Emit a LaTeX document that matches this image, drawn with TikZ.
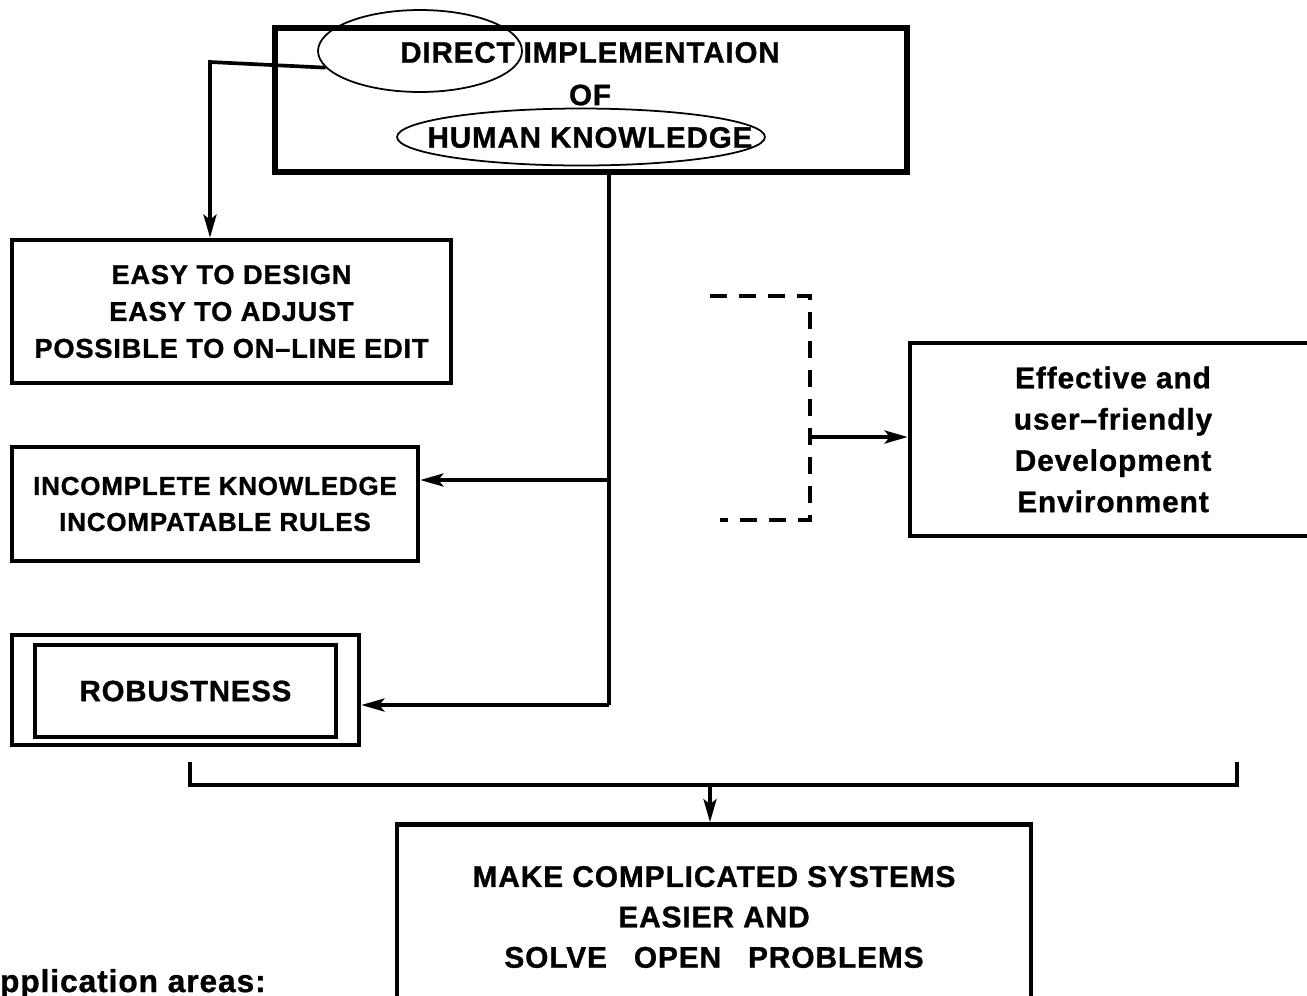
\documentclass[tikz,border=0pt]{standalone}
\usepackage{fontspec}
\newfontfamily\diagfont[LetterSpace=3.0, FakeBold=1]{Liberation Sans}
\usetikzlibrary{%
  arrows.meta,%
  shapes.geometric,% ellipse
  positioning%
}
\begin{document}
\begin{tikzpicture}[x=0.02cm, y=-0.02cm,
    >={Stealth[length=0.46cm, width=0.26cm, inset=0.1cm]},
    every node/.style={align=center, inner sep=0pt},
    lines/.style 2 args={font=\diagfont\bfseries\fontsize{#1}{#2}\selectfont},
    box/.style={draw, line width=2.7pt},
    ring/.style={draw, ellipse, line width=1pt, inner sep=0pt},
    wire/.style={line width=2.1pt},
    dashline/.style={line width=2.4pt, dash pattern=on 0.34cm off 0.24cm}
  ]
    \path[use as bounding box, clip] (0,0) rectangle (1307,995);

    %top
    \node[box, line width=3.3pt, minimum width=12.64cm, minimum height=2.88cm] (directbox) at (591,100) {};
    \node[lines={16.8}{24.2}] (directtext) at (590,95) {DIRECT IMPLEMENTAION\\OF\\HUMAN KNOWLEDGE};
    \node[ring, minimum width=4.08cm, minimum height=1.64cm] (directring) at (420,51) {};
    \node[ring, minimum width=7.36cm, minimum height=1.14cm] (humanring) at (581,137) {};

    %left column
    \node[box, lines={15.5}{21}, minimum width=8.78cm, minimum height=2.86cm] (easy) at (231.5,311.5) {EASY TO DESIGN\\EASY TO ADJUST\\POSSIBLE TO ON–LINE EDIT};
    \node[box, lines={14.8}{20.5}, minimum width=8.12cm, minimum height=2.28cm] (incomplete) at (215,504) {INCOMPLETE KNOWLEDGE\\INCOMPATABLE RULES};
    \node[box, minimum width=6.94cm, minimum height=2.2cm] (robustouter) at (185.5,690) {};
    \node[box, line width=2.3pt, lines={16.7}{21}, minimum width=6.02cm, minimum height=1.84cm] (robust) at (185.5,691) {ROBUSTNESS};

    %right
    \node[box, lines={17}{23.5}, minimum width=8.12cm, minimum height=3.86cm] (effective) at (1113,439.5) {Effective and\\user–friendly\\Development\\Environment};

    %bottom
    \node[box, minimum width=12.68cm, minimum height=4.3cm] (makebox) at (714,932) {};
    \node[lines={17}{23}] (maketext) at (714,917) {MAKE COMPLICATED SYSTEMS\\EASIER AND\\SOLVE\hspace{0.9em}OPEN\hspace{0.9em}PROBLEMS};
    \node[lines={18}{21}, anchor=base west] (areas) at (-24,992) {Application areas:};

    \coordinate (elbow) at (210,62);
    \coordinate (tap) at (609,480);
    \coordinate (trunk) at (609,705);
    \coordinate (bl) at (190,762);
    \coordinate (br) at (1237,762);
    \coordinate (bmid) at (710,785);
    \coordinate (dtop) at (710,296);
    \coordinate (dcorner1) at (810,296);
    \coordinate (dcorner2) at (810,520);
    \coordinate (dbot) at (720,520);
    \coordinate (dmid) at (810,437);

    \draw[wire,->] (directring.190) -- (elbow) -- (elbow |- easy.north);
    \draw[wire] (trunk |- directbox.south) -- (trunk);
    \draw[wire,->] (tap) -- (tap -| incomplete.east);
    \draw[wire,->] (trunk) -- (trunk -| robustouter.east);
    \draw[wire] (bl) |- (bmid) -| (br);
    \draw[wire,->] (bmid) -- (bmid |- makebox.north);
    \draw[dashline] (dtop) -- (dcorner1) -- (dcorner2) -- (dbot);
    \draw[wire,->] (dmid) -- (dmid -| effective.west);
\end{tikzpicture}
\end{document}
